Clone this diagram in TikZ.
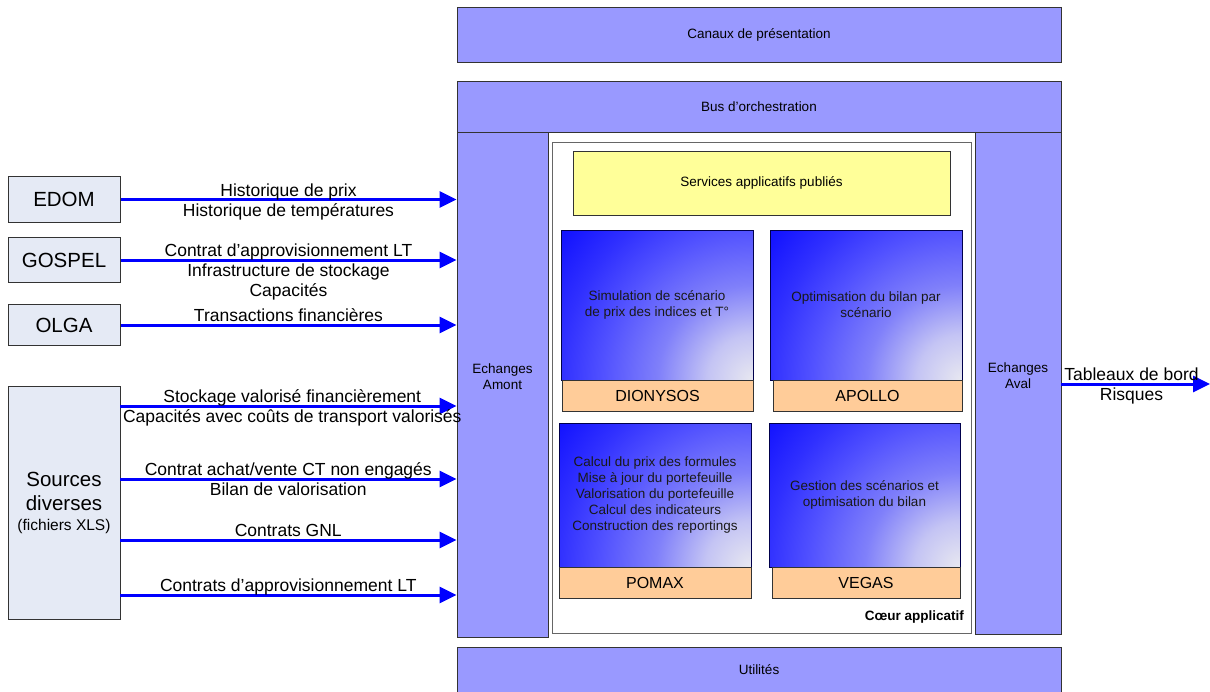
\documentclass[tikz,border=0pt]{standalone}
\usepackage{fontspec}
\setmainfont{Liberation Sans}
\usetikzlibrary{arrows.meta}
\definecolor{purp}{HTML}{9999FF}
\definecolor{yel}{HTML}{FFFF99}
\definecolor{ora}{HTML}{FFCC99}
\definecolor{lbox}{HTML}{E5EAF5}
\definecolor{bordr}{HTML}{333333}
\definecolor{arrb}{HTML}{0000FF}
\definecolor{g0}{HTML}{E8E8F0}
\definecolor{g1}{HTML}{C4C4F4}
\definecolor{g2}{HTML}{8080FA}
\definecolor{g3}{HTML}{5050FF}
\definecolor{g4}{HTML}{3030FF}
\definecolor{g5}{HTML}{1414FF}
\definecolor{g6}{HTML}{0404FF}
\definecolor{g7}{HTML}{0000FF}
\pgfdeclareradialshading{bluerad}{\pgfpoint{0bp}{0bp}}{color(0bp)=(g0); color(3bp)=(g1); color(6.25bp)=(g2); color(10bp)=(g3); color(12.7bp)=(g4); color(15.6bp)=(g5); color(19.8bp)=(g6); color(25bp)=(g7); color(50bp)=(g7)}
\newcommand{\fsz}[2]{\fontsize{#1}{#2}\selectfont}
\tikzset{
  layer/.style={draw=bordr, fill=purp, line width=1pt, inner sep=0pt, font=\fsz{13.5}{16}, align=center},
  srcbox/.style={draw=bordr, fill=lbox, line width=1pt, inner sep=0pt, font=\fsz{20.5}{24}, align=center},
  appbox/.style={draw=blue!30!black, fill=blue, line width=0.8pt, inner sep=0pt, font=\fsz{13.5}{16}, align=center, text=black!90,
    path picture={\shade[shading=bluerad] (path picture bounding box.south east) circle (380);}},
  lblbox/.style={draw=bordr, fill=ora, line width=1pt, inner sep=0pt, font=\fsz{16}{19}},
  flow/.style={draw=arrb, line width=3pt, -{Triangle[length=17pt,width=16pt]}},
  flowlbl/.style={font=\fsz{17.5}{20}, align=center, inner sep=0pt, anchor=north, yshift=19pt},
  txt/.style={inner sep=0pt, align=center, font=\fsz{13.5}{16}},
}
\begin{document}
\begin{tikzpicture}[x=1pt,y=-1pt]
\useasboundingbox (0,0) rectangle (1210,691);
% layers
\node[layer, minimum width=604, minimum height=55] (canaux) at (759,34.5) {Canaux de présentation};
\node[layer, minimum width=604, minimum height=51] (bus) at (759,106.5) {Bus d’orchestration};
\node[layer, minimum width=91, minimum height=505] (amont) at (502.5,384.5) {};
\node[txt] (amontt) at ([yshift=8pt]amont.center) {Echanges\\Amont};
\node[layer, minimum width=86, minimum height=502] (aval) at (1018,383) {};
\node[txt] (avalt) at ([yshift=7pt]aval.center) {Echanges\\Aval};
\node[layer, minimum width=604, minimum height=46] (util) at (759,670) {Utilités};
% core
\node[draw=black!60, line width=1pt, fill=white, minimum width=419, minimum height=491, inner sep=0pt] (coeur) at (761.5,387.5) {};
\node[txt, anchor=east, font=\fsz{13.5}{16}\bfseries] (coeurt) at (964,617) {Cœur applicatif};
\node[draw=bordr, fill=yel, line width=1pt, minimum width=377, minimum height=64, inner sep=0pt, font=\fsz{13.5}{16}] (serv) at (761.5,183) {Services applicatifs publiés};
% applications
\node[appbox, minimum width=192, minimum height=150] (dio) at (657,305) {Simulation de scénario\\de prix des indices et T°};
\node[lblbox, minimum width=191, minimum height=31] (diol) at (657.5,395.5) {DIONYSOS};
\node[appbox, minimum width=192, minimum height=150] (apo) at (866,305) {Optimisation du bilan par\\scénario};
\node[lblbox, minimum width=189, minimum height=31] (apol) at (867.5,395.5) {APOLLO};
\node[appbox, minimum width=192, minimum height=144] (pom) at (655,495) {Calcul du prix des formules\\Mise à jour du portefeuille\\Valorisation du portefeuille\\Calcul des indicateurs\\Construction des reportings};
\node[lblbox, minimum width=192, minimum height=31] (poml) at (655,582.5) {POMAX};
\node[appbox, minimum width=191, minimum height=144] (veg) at (864.5,495) {Gestion des scénarios et\\optimisation du bilan};
\node[lblbox, minimum width=188, minimum height=31] (vegl) at (866,582.5) {VEGAS};
% sources
\node[srcbox, minimum width=112, minimum height=46] (edom) at (64,199.5) {EDOM};
\node[srcbox, minimum width=112, minimum height=45] (gospel) at (64,260) {GOSPEL};
\node[srcbox, minimum width=112, minimum height=41] (olga) at (64,325) {OLGA};
\node[srcbox, minimum width=112, minimum height=233] (src) at (64,503) {Sources\\diverses\\[-4pt]{\fsz{15.5}{18}(fichiers XLS)}};
% flows
\draw[flow] (edom.east) -- (edom.east -| amont.west) node[flowlbl, midway] {\strut Historique de prix\\Historique de températures};
\draw[flow] (gospel.east) -- (gospel.east -| amont.west) node[flowlbl, midway] {\strut Contrat d’approvisionnement LT\\Infrastructure de stockage\\Capacités};
\draw[flow] (olga.east) -- (olga.east -| amont.west) node[flowlbl, midway] {\strut Transactions financières};
\coordinate (s1) at (120,406);
\coordinate (s2) at (120,479);
\coordinate (s3) at (120,540);
\coordinate (s4) at (120,595);
\draw[flow] (s1) -- (s1 -| amont.west) node[flowlbl, midway, xshift=4pt] {\strut Stockage valorisé financièrement\\Capacités avec coûts de transport valorisés};
\draw[flow] (s2) -- (s2 -| amont.west) node[flowlbl, midway] {\strut Contrat achat/vente CT non engagés\\Bilan de valorisation};
\draw[flow] (s3) -- (s3 -| amont.west) node[flowlbl, midway] {\strut Contrats GNL};
\draw[flow] (s4) -- (s4 -| amont.west) node[flowlbl, midway] {\strut Contrats d’approvisionnement LT};
\coordinate (r0) at (1061,384);
\coordinate (r1) at (1210,384);
\draw[flow] (r0) -- (r1) node[flowlbl, midway, xshift=-4pt] {\strut Tableaux de bord\\Risques};
\end{tikzpicture}
\end{document}
